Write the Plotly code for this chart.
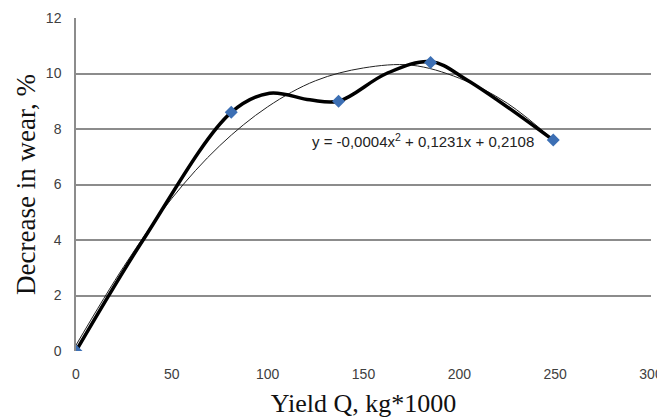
import plotly.graph_objects as go

# measured points
yield_q = [0, 81, 137, 185, 249]
wear_decrease = [0, 8.6, 9.0, 10.4, 7.6]

# smoothed curve through the points
curve_x = [0, 35, 81, 101, 122, 137, 162, 185, 204, 249]
curve_y = [0, 4, 8.6, 9.29, 9.05, 9.0, 10.0, 10.43, 9.77, 7.6]

# polynomial trendline
trend_x = [0, 25, 50, 75, 100, 125, 150, 175, 200, 225, 250]
trend_y = [0.21, 3.05, 5.5, 7.4, 8.8, 9.74, 10.2, 10.3, 9.83, 8.93, 7.55]

x_ticks = [0, 50, 100, 150, 200, 250, 300]
y_ticks = [0, 2, 4, 6, 8, 10, 12]

equation = "y = -0,0004x<sup>2</sup> + 0,1231x + 0,2108"

fig = go.Figure()

fig.add_trace(go.Scatter(
    x=trend_x, y=trend_y,
    mode='lines',
    line=dict(color='#222222', width=1, shape='spline', smoothing=1),
    showlegend=False
))

fig.add_trace(go.Scatter(
    x=curve_x, y=curve_y,
    mode='lines',
    line=dict(color='black', width=3.5, shape='spline', smoothing=1),
    showlegend=False
))

fig.add_trace(go.Scatter(
    x=yield_q, y=wear_decrease,
    mode='markers',
    marker=dict(symbol='diamond', size=10, color='#3c6fb4'),
    showlegend=False
))

fig.add_annotation(
    x=181, y=7.6, xref='x', yref='y',
    text=equation, showarrow=False,
    font=dict(family='Liberation Sans, Arial', size=15, color='#222222')
)

# page body has an 8px margin, so the figure is sized to fit the window
fig.update_layout(
    width=657, height=412,
    margin=dict(l=68, r=14, t=10, b=69),
    paper_bgcolor='white',
    plot_bgcolor='white',
    xaxis=dict(
        range=[0, 300],
        tickvals=x_ticks,
        automargin=False,
        showgrid=False,
        zeroline=False,
        showline=False,
        ticks='outside', ticklen=10, tickcolor='rgba(0,0,0,0)',
        tickfont=dict(family='Liberation Sans, Arial', size=14, color='#404040'),
        title=dict(text='Yield Q, kg*1000', standoff=13,
                   font=dict(family='Liberation Serif, Times New Roman', size=26, color='#111111'))
    ),
    yaxis=dict(
        range=[0, 12],
        tickvals=y_ticks,
        automargin=False,
        showgrid=True, gridcolor='#8c8c8c', gridwidth=1.5,
        zeroline=False,
        showline=True, linecolor='#8c8c8c', linewidth=1.5,
        ticks='outside', ticklen=10, tickcolor='rgba(0,0,0,0)',
        tickfont=dict(family='Liberation Sans, Arial', size=14, color='#404040'),
        title=dict(text='Decrease in wear, %', standoff=2,
                   font=dict(family='Liberation Serif, Times New Roman', size=27, color='#111111'))
    )
)

fig.write_html("out.html")
